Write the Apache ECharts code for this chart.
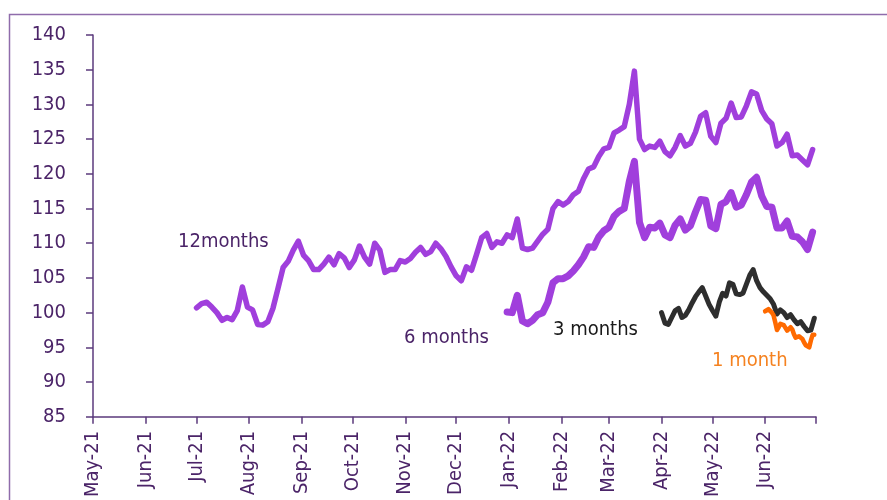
<!DOCTYPE html>
<html>
<head>
<meta charset="utf-8">
<script src="https://cdn.jsdelivr.net/npm/echarts@6/dist/echarts.min.js"></script>
<style>
  html, body { margin: 0; padding: 0; background: #fff; }
  #chart { width: 887px; height: 500px; }
</style>
</head>
<body>
<div id="chart"></div>
<script>
// month ticks on the x axis
const tickDates = [[2021,4],[2021,5],[2021,6],[2021,7],[2021,8],[2021,9],[2021,10],[2021,11],
  [2022,0],[2022,1],[2022,2],[2022,3],[2022,4],[2022,5],[2022,6]];
const tickLabels = ['May-21','Jun-21','Jul-21','Aug-21','Sep-21','Oct-21','Nov-21','Dec-21',
  'Jan-22','Feb-22','Mar-22','Apr-22','May-22','Jun-22',''];

// 12 months, every 3 days from 1 Jul 2021
const start12 = [2021, 6, 1];
const step12 = 3;
const values12 = [100.7,101.3,101.5,100.8,100.0,98.9,99.3,99.0,100.3,103.7,
  100.8,100.4,98.3,98.2,98.7,100.6,103.5,106.5,107.4,109.0,
  110.3,108.3,107.5,106.2,106.2,107.0,108.0,106.9,108.5,107.9,
  106.5,107.6,109.6,108.0,107.0,110.0,109.0,105.8,106.2,106.2,
  107.5,107.3,107.8,108.7,109.4,108.4,108.8,110.0,109.2,108.1,
  106.6,105.3,104.6,106.6,106.1,108.4,110.8,111.4,109.4,110.2,
  110.0,111.2,110.8,113.5,109.3,109.1,109.3,110.3,111.3,112.0,
  115.0,116.0,115.5,116.0,117.0,117.5,119.3,120.7,121.0,122.5,
  123.6,123.8,125.9,126.3,126.8,130.0,134.8,125.0,123.5,124.0,
  123.8,124.7,123.2,122.6,123.8,125.5,124.0,124.4,126.0,128.3,
  128.8,125.4,124.5,127.3,128.0,130.2,128.1,128.2,129.8,131.8,
  131.5,129.1,127.9,127.2,124.0,124.5,125.7,122.6,122.7,122.0,
  121.3,123.5];

// 6 months, every 3 days from 31 Dec 2021
const start6 = [2021, 11, 31];
const step6 = 3;
const values6 = [100.1,100.0,102.5,98.8,98.4,98.9,99.7,100.0,101.5,104.3,
  104.9,104.9,105.3,106.0,106.9,108.0,109.5,109.4,110.9,111.8,
  112.3,113.9,114.6,115.0,118.9,121.8,113.0,110.8,112.3,112.2,
  112.9,111.2,110.8,112.6,113.5,111.9,112.5,114.5,116.3,116.2,
  112.5,112.1,115.6,116.0,117.3,115.2,115.5,117.0,118.8,119.5,
  116.8,115.3,115.2,112.2,112.2,113.2,111.0,110.9,110.2,109.1,
  111.6];

// 3 months, every 2 days from 1 Apr 2022
const start3 = [2022, 3, 1];
const step3 = 2;
const values3 = [100.0,98.5,98.3,99.3,100.3,100.6,99.3,99.6,100.4,101.4,
  102.3,103.0,103.6,102.4,101.2,100.3,99.5,101.5,102.8,102.4,
  104.3,104.1,102.7,102.6,102.8,104.1,105.4,106.2,104.6,103.6,
  103.0,102.5,102.0,101.2,99.8,100.4,100.0,99.3,99.7,99.0,
  98.4,98.7,98.0,97.4,97.5,99.2];

// 1 month, daily from 1 Jun 2022
const start1 = [2022, 5, 1];
const step1 = 1;
const values1 = [100.2,100.4,100.5,100.3,100.0,99.6,98.6,97.5,97.9,98.4,
  98.6,98.2,97.8,97.4,97.6,97.9,97.6,96.9,96.4,96.5,
  96.6,96.7,96.2,95.7,95.3,95.1,95.0,96.0,96.8,96.8];

function toPairs(start, step, values) {
  return values.map((v, i) => [new Date(start[0], start[1], start[2] + i * step).getTime(), v]);
}

const tickTimes = tickDates.map(d => new Date(d[0], d[1], 1).getTime());
const labelTimes = tickTimes.slice(0, tickTimes.length - 1);

const purple = '#a03fdc';
const textFont = 'DejaVu Sans Condensed';
const labelFont = '20px "DejaVu Sans Condensed"';

let myChart = echarts.init(document.getElementById('chart'));
myChart.setOption({
  animation: false,
  textStyle: { fontFamily: textFont },
  grid: { left: 93, right: 71, top: 35, bottom: 80 },
  xAxis: {
    // timestamps on a plain value axis so the month ticks can be given directly
    type: 'value',
    min: tickTimes[0],
    max: tickTimes[tickTimes.length - 1],
    axisLine: { lineStyle: { color: '#5b3a7c', width: 1.5 } },
    axisTick: { show: true, length: 7, customValues: tickTimes, lineStyle: { color: '#5b3a7c', width: 1.5 } },
    splitLine: { show: false },
    axisLabel: {
      customValues: labelTimes,
      rotate: 90,
      margin: 14,
      color: '#4b2468',
      fontSize: 20,
      fontFamily: textFont,
      formatter: function (val) {
        let i = tickTimes.indexOf(val);
        return i >= 0 ? tickLabels[i] : '';
      }
    }
  },
  yAxis: {
    type: 'value',
    min: 85,
    max: 140,
    interval: 5,
    axisLine: { show: true, lineStyle: { color: '#5b3a7c', width: 1.5 } },
    axisTick: { show: true, length: 7, lineStyle: { color: '#5b3a7c', width: 1.5 } },
    splitLine: { show: false },
    axisLabel: { margin: 27, color: '#4b2468', fontSize: 20, fontFamily: textFont }
  },
  series: [
    { name: '12months', type: 'line', showSymbol: false, data: toPairs(start12, step12, values12),
      lineStyle: { color: purple, width: 5.5, cap: 'round', join: 'round' } },
    { name: '6 months', type: 'line', showSymbol: false, data: toPairs(start6, step6, values6),
      lineStyle: { color: purple, width: 7, cap: 'round', join: 'round' } },
    { name: '3 months', type: 'line', showSymbol: false, data: toPairs(start3, step3, values3),
      lineStyle: { color: '#2e2e2e', width: 5, cap: 'round', join: 'round' } },
    { name: '1 month', type: 'line', showSymbol: false, data: toPairs(start1, step1, values1),
      lineStyle: { color: '#ff6a00', width: 4.5, cap: 'round', join: 'round' } }
  ],
  graphic: [
    // outer frame
    { type: 'rect', left: 7, top: 12, shape: { width: 900, height: 520 },
      style: { fill: 'none', stroke: '#8f6cab', lineWidth: 1.5 }, silent: true },
    { type: 'text', left: 178, top: 232, style: { text: '12months', fill: '#4b2468', font: labelFont } },
    { type: 'text', left: 404, top: 328, style: { text: '6 months', fill: '#4b2468', font: labelFont } },
    { type: 'text', left: 553, top: 320, style: { text: '3 months', fill: '#1a1a1a', font: labelFont } },
    { type: 'text', left: 712, top: 351, style: { text: '1 month', fill: '#f58220', font: labelFont } }
  ]
});
</script>
</body>
</html>
